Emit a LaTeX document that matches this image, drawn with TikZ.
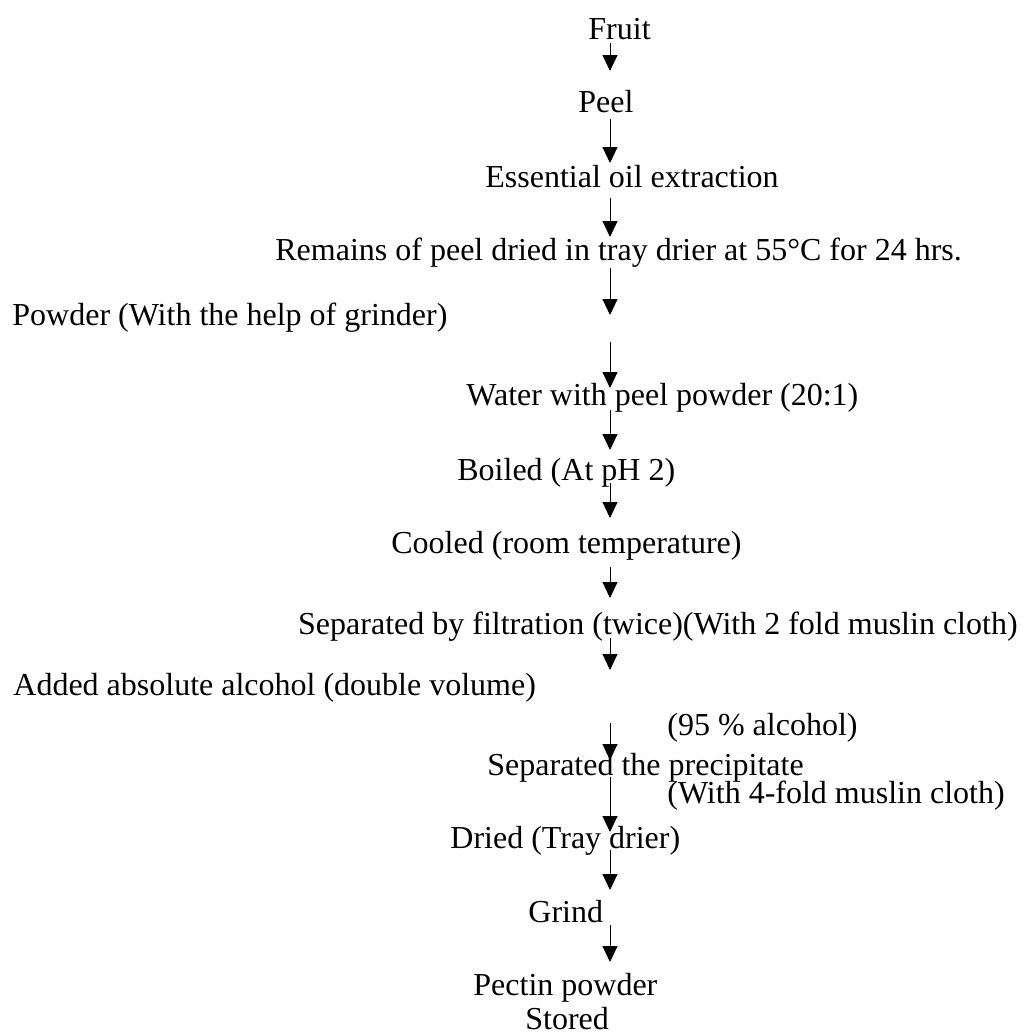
\documentclass[tikz,border=0pt]{standalone}
\usepackage{fontspec}
\setmainfont{Liberation Serif}
\usepackage{tikz}
\usetikzlibrary{arrows.meta, positioning}
\tikzset{
  >=Triangle,
  flowarrow/.style={-{Triangle[length=8pt, width=7.5pt]}, line width=0.5pt, black},
  steptext/.style={inner sep=0pt, anchor=base west, font=\fontsize{16}{19}\selectfont},
  steptextr/.style={steptext, anchor=base east}
}

\begin{document}
\begin{tikzpicture}[x=0.5pt, y=-0.5pt]
    \useasboundingbox (0,0) rectangle (1025,1034);

    % process steps
    \node (fruit) [steptext] at (588,39) {Fruit};
    \node (peel) [steptext] at (578,112) {Peel};
    \node (oil) [steptext] at (485,187) {Essential oil extraction};
    \node (remains) [steptext] at (275,260) {Remains of peel dried in tray drier at 55°C for 24 hrs.};
    \node (powder) [steptext] at (12,325) {Powder (With the help of grinder)};
    \node (water) [steptext] at (466,405) {Water with peel powder (20:1)};
    \node (boiled) [steptext] at (457,480) {Boiled (At pH 2)};
    \node (cooled) [steptext] at (391,553) {Cooled (room temperature)};
    \node (filter) [steptextr] at (1018,634) {Separated by filtration (twice)(With 2 fold muslin cloth)};
    \node (alcohol) [steptext] at (13,695) {Added absolute alcohol (double volume)};
    \node (ninetyfive) [steptext] at (667,735) {(95 \% alcohol)};
    \node (precip) [steptext] at (487,775) {Separated the precipitate};
    \node (fourfold) [steptext] at (667,803) {(With 4-fold muslin cloth)};
    \node (dried) [steptext] at (450,848) {Dried (Tray drier)};
    \node (grind) [steptext] at (528,922) {Grind};
    \node (pectin) [steptext] at (473,995) {Pectin powder};
    \node (stored) [steptext] at (525,1029) {Stored};

    % arrow ends
    \coordinate (a1) at (610,43);   \coordinate (b1) at (610,71);
    \coordinate (a2) at (610,119);  \coordinate (b2) at (610,163);
    \coordinate (a3) at (610,198);  \coordinate (b3) at (610,237);
    \coordinate (a4) at (610,268);  \coordinate (b4) at (610,315);
    \coordinate (a5) at (610,342);  \coordinate (b5) at (610,388);
    \coordinate (a6) at (610,410);  \coordinate (b6) at (610,450);
    \coordinate (a7) at (610,483);  \coordinate (b7) at (610,518);
    \coordinate (a8) at (610,567);  \coordinate (b8) at (610,598);
    \coordinate (a9) at (610,638);  \coordinate (b9) at (610,670);
    \coordinate (a10) at (610,723); \coordinate (b10) at (610,760);
    \coordinate (a11) at (610,777); \coordinate (b11) at (610,832);
    \coordinate (a12) at (610,850); \coordinate (b12) at (610,890);
    \coordinate (a13) at (610,925); \coordinate (b13) at (610,962);

    \draw[flowarrow] (a1) -- (b1);
    \draw[flowarrow] (a2) -- (b2);
    \draw[flowarrow] (a3) -- (b3);
    \draw[flowarrow] (a4) -- (b4);
    \draw[flowarrow] (a5) -- (b5);
    \draw[flowarrow] (a6) -- (b6);
    \draw[flowarrow] (a7) -- (b7);
    \draw[flowarrow] (a8) -- (b8);
    \draw[flowarrow] (a9) -- (b9);
    \draw[flowarrow] (a10) -- (b10);
    \draw[flowarrow] (a11) -- (b11);
    \draw[flowarrow] (a12) -- (b12);
    \draw[flowarrow] (a13) -- (b13);
\end{tikzpicture}
\end{document}
